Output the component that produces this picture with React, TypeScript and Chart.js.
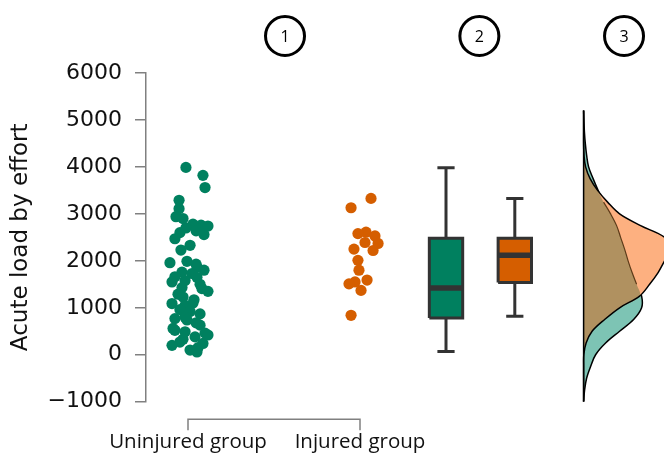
import React, { useEffect, useRef } from 'react';
import { Chart, registerables } from 'chart.js';

Chart.register(...registerables);

// ---------- data ----------
const GROUP_LABELS = ['Uninjured group', 'Injured group'];
const GROUP_POS = [1, 2];

const UNINJ_VALUES = [
  3990, 3820, 3560, 3290, 3110, 2940, 2900,
  2780, 2760, 2740, 2700, 2640, 2600, 2560,
  2470, 2330, 2230,
  1990, 1960, 1930, 1870, 1800, 1760, 1730, 1660, 1650, 1580, 1550, 1500, 1430, 1410, 1350,
  1290, 1230, 1170, 1100, 1090, 1050,
  960, 920, 870, 800, 770, 740, 680, 630, 560, 520, 490, 460, 420,
  380, 330, 270, 240, 200, 150, 100, 60,
];
const UNINJ_JITTER = [
  -0.012, 0.087, 0.099, -0.052, -0.052, -0.07, -0.029,
  0.029, 0.076, 0.116, -0.012, 0.047, -0.047, 0.093,
  -0.076, 0.012, -0.041,
  -0.006, -0.105, 0.047, 0.052, 0.093, -0.035, 0.023, -0.076, 0.052, -0.017, -0.093, 0.07, -0.035, 0.081, 0.116,
  -0.058, -0.029, 0.035, 0.029, -0.093, -0.017,
  -0.047, 0.012, 0.07, -0.017, -0.076, -0.006, 0.047, 0.07, -0.087, -0.076, -0.017, 0.099, 0.116,
  0.041, -0.029, -0.047, 0.087, -0.093, 0.058, 0.012, 0.052,
];

const INJ_VALUES = [3330, 3130, 2610, 2580, 2530, 2390, 2370, 2250, 2220, 2010, 1800, 1590, 1550, 1510, 1370, 840];
const INJ_JITTER = [0.064, -0.052, 0.035, -0.012, 0.087, 0.029, 0.105, -0.035, 0.076, -0.012, -0.006, 0.041, -0.029, -0.064, 0.006, -0.052];

const BOX_POS = [2.5, 2.9];
const BOX_MIN = [70, 820];
const BOX_Q1 = [780, 1540];
const BOX_MED = [1420, 2120];
const BOX_Q3 = [2480, 2480];
const BOX_MAX = [3980, 3330];

const DENS_GRID = [
  -1000, -750, -500, -250, 0, 250, 500, 750, 1000, 1250, 1500, 1750, 2000,
  2250, 2500, 2750, 3000, 3250, 3500, 3750, 4000, 4250, 4500, 4750, 5000, 5200,
];
const DENS_UNINJ = [
  0, 0.01, 0.03, 0.07, 0.12, 0.22, 0.36, 0.5, 0.58, 0.58, 0.53, 0.485, 0.445,
  0.41, 0.37, 0.33, 0.27, 0.2, 0.145, 0.095, 0.05, 0.03, 0.017, 0.008, 0.003, 0,
];
const DENS_INJ = [
  0, 0, 0, 0, 0.002, 0.025, 0.085, 0.21, 0.36, 0.56, 0.66, 0.745, 0.81,
  0.88, 0.81, 0.57, 0.36, 0.24, 0.14, 0.065, 0.02, 0.004, 0, 0, 0, 0,
];

const Y_MIN = -1000;
const Y_MAX = 6000;
const Y_STEP = 1000;

const ANNOT_LABELS = ['1', '2', '3'];
const ANNOT_POS = [1.564, 2.694, 3.535];

// ---------- layout / style ----------
const X_MIN = 0.7558;
const X_MAX = 3.7674;
const DENS_BASE = 3.3;
const DENS_SCALE = 0.5814;
const BOX_HALF = 0.097;
const CAP_HALF = 0.05;

const GREEN = '#00805F';
const ORANGE = '#D55E00';
const DARK = '#333333';
const AXIS_GREY = '#808080';

function lineDs(data: { x: number; y: number }[], extra: any) {
  return {
    type: 'line',
    data,
    pointRadius: 0,
    pointHoverRadius: 0,
    tension: 0,
    fill: false,
    ...extra,
  };
}

function buildDatasets() {
  const ds: any[] = [];
  ds.push({
    type: 'scatter',
    data: UNINJ_VALUES.map((v, i) => ({ x: GROUP_POS[0] + UNINJ_JITTER[i], y: v })),
    backgroundColor: GREEN,
    borderWidth: 0,
    pointRadius: 5.6,
    order: 10,
  });
  ds.push({
    type: 'scatter',
    data: INJ_VALUES.map((v, i) => ({ x: GROUP_POS[1] + INJ_JITTER[i], y: v })),
    backgroundColor: ORANGE,
    borderWidth: 0,
    pointRadius: 5.6,
    order: 10,
  });
  const colors = [GREEN, ORANGE];
  BOX_POS.forEach((p, i) => {
    ds.push(lineDs([{ x: p, y: BOX_Q3[i] }, { x: p, y: BOX_MAX[i] }], { borderColor: DARK, borderWidth: 3, order: 12 }));
    ds.push(lineDs([{ x: p, y: BOX_Q1[i] }, { x: p, y: BOX_MIN[i] }], { borderColor: DARK, borderWidth: 3, order: 12 }));
    ds.push(lineDs([{ x: p - CAP_HALF, y: BOX_MAX[i] }, { x: p + CAP_HALF, y: BOX_MAX[i] }], { borderColor: DARK, borderWidth: 3, order: 12 }));
    ds.push(lineDs([{ x: p - CAP_HALF, y: BOX_MIN[i] }, { x: p + CAP_HALF, y: BOX_MIN[i] }], { borderColor: DARK, borderWidth: 3, order: 12 }));
    ds.push(
      lineDs(
        [
          { x: p - BOX_HALF, y: BOX_Q1[i] },
          { x: p + BOX_HALF, y: BOX_Q1[i] },
          { x: p + BOX_HALF, y: BOX_Q3[i] },
          { x: p - BOX_HALF, y: BOX_Q3[i] },
          { x: p - BOX_HALF, y: BOX_Q1[i] },
        ],
        { borderColor: DARK, borderWidth: 3, backgroundColor: colors[i], fill: 'shape', borderJoinStyle: 'miter', order: 11 }
      )
    );
    ds.push(lineDs([{ x: p - BOX_HALF, y: BOX_MED[i] }, { x: p + BOX_HALF, y: BOX_MED[i] }], { borderColor: DARK, borderWidth: 5.5, order: 9 }));
  });
  const teal = DENS_GRID.map((v, i) => ({ x: DENS_BASE + DENS_UNINJ[i] * DENS_SCALE, y: v }));
  const oran = DENS_GRID.map((v, i) => ({ x: DENS_BASE + DENS_INJ[i] * DENS_SCALE, y: v }));
  const overlap = DENS_GRID.map((v, i) => ({ x: DENS_BASE + Math.min(DENS_UNINJ[i], DENS_INJ[i]) * DENS_SCALE, y: v }));
  const tealInner = teal.filter((_, i) => DENS_UNINJ[i] <= DENS_INJ[i] && DENS_INJ[i] > 0.1);
  ds.push(lineDs(teal, { borderColor: '#000', borderWidth: 1.5, backgroundColor: '#7DC4B4', fill: 'shape', tension: 0.35, order: 25 }));
  ds.push(lineDs(oran, { borderColor: 'rgba(0,0,0,0)', borderWidth: 0, backgroundColor: '#FDB080', fill: 'shape', tension: 0.35, order: 24 }));
  ds.push(lineDs(overlap, { borderColor: 'rgba(0,0,0,0)', borderWidth: 0, backgroundColor: '#B09160', fill: 'shape', tension: 0.35, order: 23 }));
  ds.push(lineDs(tealInner, { borderColor: 'rgba(80,48,16,0.9)', borderWidth: 1.2, tension: 0.35, order: 22 }));
  ds.push(lineDs(oran, { borderColor: '#000', borderWidth: 1.5, tension: 0.35, order: 21 }));
  ds.push(
    lineDs(
      [
        { x: DENS_BASE, y: DENS_GRID[0] },
        { x: DENS_BASE, y: DENS_GRID[DENS_GRID.length - 1] },
      ],
      { borderColor: '#000', borderWidth: 1.5, order: 20 }
    )
  );
  return ds;
}

const decorPlugin = {
  id: 'decor',
  afterDraw(chart: any) {
    const { ctx, scales, chartArea } = chart;
    const xs = scales.x;
    const x1 = xs.getPixelForValue(GROUP_POS[0]);
    const x2 = xs.getPixelForValue(GROUP_POS[GROUP_POS.length - 1]);
    const yb = chartArea.bottom + 17.6;
    ctx.save();
    ctx.strokeStyle = AXIS_GREY;
    ctx.lineWidth = 1.5;
    ctx.beginPath();
    ctx.moveTo(x1, yb + 11);
    ctx.lineTo(x1, yb);
    ctx.lineTo(x2, yb);
    ctx.lineTo(x2, yb + 11);
    ctx.stroke();
    const cy = chartArea.top - 37;
    ANNOT_POS.forEach((p, i) => {
      const cx = xs.getPixelForValue(p);
      ctx.beginPath();
      ctx.arc(cx, cy, 19.5, 0, Math.PI * 2);
      ctx.strokeStyle = '#000';
      ctx.lineWidth = 3;
      ctx.stroke();
      ctx.fillStyle = '#000';
      ctx.font = '16px "Open Sans"';
      ctx.textAlign = 'center';
      ctx.textBaseline = 'middle';
      ctx.fillText(ANNOT_LABELS[i], cx, cy + 1);
    });
    ctx.restore();
  },
};

export default function App() {
  const ref = useRef<HTMLCanvasElement | null>(null);
  useEffect(() => {
    if (!ref.current) return;
    const chart = new Chart(ref.current, {
      type: 'line',
      data: { datasets: buildDatasets() },
      plugins: [decorPlugin],
      options: {
        animation: false,
        responsive: false,
        events: [],
        layout: { autoPadding: false, padding: { top: 73, left: 0, right: 0, bottom: 0 } },
        plugins: { legend: { display: false }, tooltip: { enabled: false } },
        scales: {
          x: {
            type: 'linear',
            min: X_MIN,
            max: X_MAX,
            border: { display: false },
            grid: { display: false, drawTicks: false },
            afterBuildTicks: (s: any) => {
              s.ticks = GROUP_POS.map((v) => ({ value: v }));
            },
            afterFit: (s: any) => {
              s.height = 62.3;
              s.paddingLeft = 0;
              s.paddingRight = 0;
            },
            ticks: {
              autoSkip: false,
              maxRotation: 0,
              padding: 28,
              color: '#111',
              font: { family: '"Open Sans"', size: 20.5 },
              callback: (_v: any, i: number) => GROUP_LABELS[i],
            },
          },
          y: {
            type: 'linear',
            min: Y_MIN,
            max: Y_MAX,
            border: { display: true, color: AXIS_GREY, width: 1.5 },
            grid: { drawOnChartArea: false, drawTicks: true, tickLength: 11, color: AXIS_GREY, lineWidth: 1.5 },
            afterFit: (s: any) => {
              s.width = 146;
            },
            ticks: {
              stepSize: Y_STEP,
              padding: 13,
              color: '#111',
              font: { family: '"DejaVu Sans"', size: 22 },
              callback: (v: any) => (v < 0 ? '\u2212' + Math.abs(v) : String(v)),
            },
            title: {
              display: true,
              text: 'Acute load by effort',
              color: '#111',
              padding: { top: 7, bottom: 0 },
              font: { family: '"DejaVu Sans"', size: 23 },
            },
          },
        },
      } as any,
    } as any);
    return () => chart.destroy();
  }, []);
  return (
    <div style={{ position: 'fixed', left: 0, top: 0, width: 664, height: 464, background: '#fff' }}>
      <canvas ref={ref} width={664} height={464} style={{ display: 'block' }} />
    </div>
  );
}
